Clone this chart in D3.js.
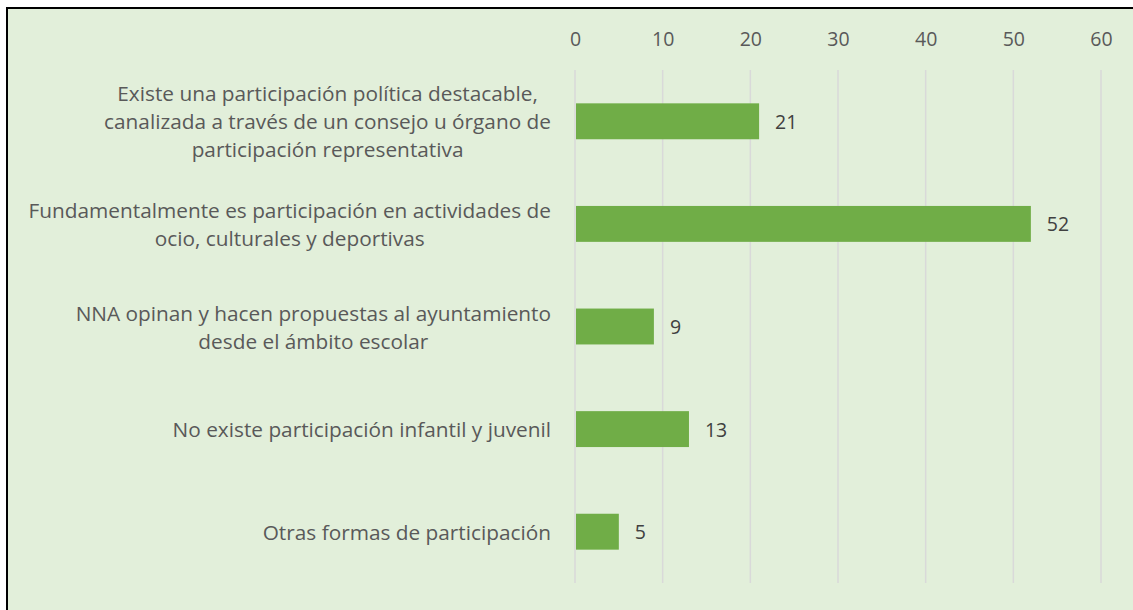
<!DOCTYPE html>
<html>
<head>
<meta charset="utf-8">
<script src="https://cdn.jsdelivr.net/npm/d3@7"></script>
<style>
  body { margin: 0; background: #fff; }
  #chart { width: 1133px; height: 610px; }
  text { font-family: "Open Sans", sans-serif; }
</style>
</head>
<body>
<div id="chart"></div>
<script>
var categories = [
  ["Existe una participación política destacable,", "canalizada a través de un consejo u órgano de", "participación representativa"],
  ["Fundamentalmente es participación en actividades de", "ocio, culturales y deportivas"],
  ["NNA opinan y hacen propuestas al ayuntamiento", "desde el ámbito escolar"],
  ["No existe participación infantil y juvenil"],
  ["Otras formas de participación"]
]
var values = [21, 52, 9, 13, 5]
var ticks = [0, 10, 20, 30, 40, 50, 60]

var width = 1133, height = 610
const margin = {top: 70, right: 32, bottom: 27, left: 575}

var svg = d3.select("#chart").append("svg")
    .attr("width", width)
    .attr("height", height)

// chart area box (border runs past the bottom and right of the picture)
svg.append("rect")
    .attr("x", 7)
    .attr("y", 8)
    .attr("width", width + 20)
    .attr("height", height + 20)
    .attr("fill", "#e2efda")
    .attr("stroke", "#000")
    .attr("stroke-width", 2)

var xScale = d3.scaleLinear()
    .domain([0, 60])
    .range([margin.left, width - margin.right])

var yScale = d3.scaleBand()
    .domain(d3.range(values.length))
    .range([margin.top, height - margin.bottom])
    .paddingInner(0.65)
    .paddingOuter(0.325)

// gridlines
svg.append("g")
    .selectAll("line")
    .data(ticks)
    .enter()
    .append("line")
    .attr("x1", function(d) { return xScale(d) })
    .attr("x2", function(d) { return xScale(d) })
    .attr("y1", margin.top)
    .attr("y2", height - margin.bottom)
    .attr("stroke", "#d9d9d9")
    .attr("stroke-width", 1.5)

// top axis
var xAxis = d3.axisTop(xScale)
    .tickValues(ticks)
    .tickSize(0)
    .tickPadding(0)
var ax = svg.append("g")
    .attr("transform", "translate(0,46)")
    .call(xAxis)
ax.select(".domain").remove()
ax.selectAll("text")
    .attr("font-family", "Open Sans, sans-serif")
    .attr("font-size", 19.5)
    .attr("fill", "#595959")

// bars
svg.append("g")
    .selectAll("rect")
    .data(values)
    .enter()
    .append("rect")
    .attr("x", xScale(0) + 1)
    .attr("y", function(d, i) { return yScale(i) })
    .attr("width", function(d) { return xScale(d) - xScale(0) - 1 })
    .attr("height", yScale.bandwidth())
    .attr("fill", "#70ad47")

// value labels
svg.append("g")
    .selectAll("text")
    .data(values)
    .enter()
    .append("text")
    .attr("x", function(d) { return xScale(d) + 16 })
    .attr("y", function(d, i) { return yScale(i) + yScale.bandwidth() / 2 })
    .attr("dominant-baseline", "central")
    .attr("font-size", 19.5)
    .attr("fill", "#404040")
    .text(function(d) { return d })

// category labels: centred lines, block right-aligned to the axis
var lineH = 28
var labelRight = 551
categories.forEach(function(lines, i) {
    var g = svg.append("g")
    var cy = yScale(i) + yScale.bandwidth() / 2
    var t = g.selectAll("text")
        .data(lines)
        .enter()
        .append("text")
        .attr("y", function(d, j) { return cy + (j - (lines.length - 1) / 2) * lineH })
        .attr("dominant-baseline", "central")
        .attr("text-anchor", "middle")
        .attr("font-size", 20.8)
        .attr("fill", "#595959")
        .text(function(d) { return d })
    var maxW = d3.max(t.nodes(), function(n) { return n.getComputedTextLength() })
    t.attr("x", labelRight - maxW / 2)
})
</script>
</body>
</html>
